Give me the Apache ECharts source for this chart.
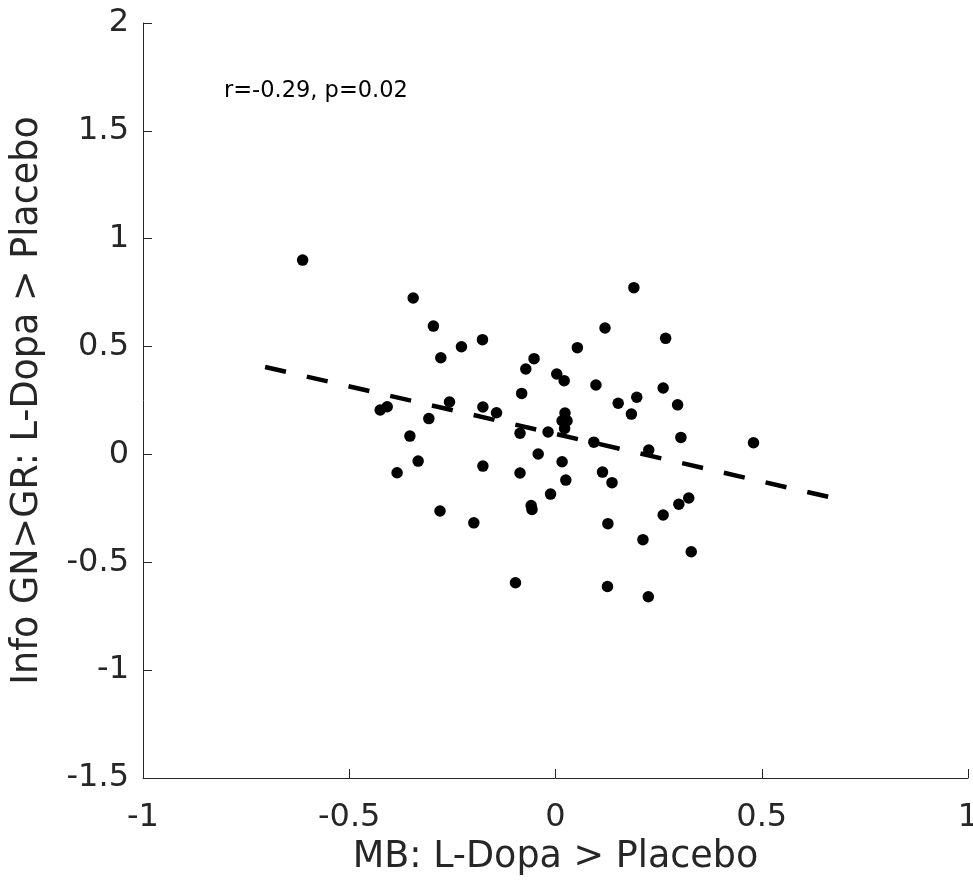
<!DOCTYPE html>
<html>
<head>
<meta charset="utf-8">
<title>MB vs Info GN>GR</title>
<script src="https://cdn.jsdelivr.net/npm/echarts@6/dist/echarts.min.js"></script>
<style>
  html, body { margin: 0; padding: 0; background: #fff; overflow: hidden; }
  #chart { width: 973px; height: 889px; }
</style>
</head>
<body>
<div id="chart"></div>
<script>
// Per-subject effects: model-based (MB) vs. information GN>GR, both L-Dopa > Placebo
const mbEffect = [
  -0.613, -0.345, -0.296, -0.228, -0.177, -0.278, -0.425, -0.408, -0.257, -0.307,
  -0.176, -0.143, -0.353, -0.333, -0.384, -0.176, -0.280, -0.198, -0.097, -0.052,
  -0.072, -0.082, 0.003, 0.021, 0.053, 0.023, 0.016, 0.028, 0.022, -0.086,
  -0.018, -0.042, 0.016, -0.086, 0.025, -0.012, -0.059, -0.057, 0.190, 0.120,
  0.267, 0.098, 0.261, 0.197, 0.152, 0.296, 0.184, 0.093, 0.304, 0.480,
  0.226, 0.114, 0.137, 0.323, 0.299, 0.261, 0.127, 0.212, 0.329, 0.126,
  0.225
];
const infoEffect = [
  0.901, 0.725, 0.595, 0.499, 0.532, 0.448, 0.206, 0.221, 0.243, 0.166,
  0.220, 0.193, 0.085, -0.031, -0.085, -0.054, -0.262, -0.317, -0.595, 0.444,
  0.396, 0.283, 0.373, 0.342, 0.495, 0.192, 0.156, 0.156, 0.120, 0.098,
  0.104, 0.002, -0.034, -0.086, -0.119, -0.184, -0.237, -0.255, 0.773, 0.586,
  0.538, 0.322, 0.308, 0.265, 0.237, 0.230, 0.187, 0.057, 0.079, 0.054,
  0.020, -0.082, -0.131, -0.202, -0.231, -0.281, -0.321, -0.395, -0.451, -0.612,
  -0.660
];

// Least-squares fit, drawn over the range of the data
const fitSlope = -0.441;
const fitIntercept = 0.095;
const fitRange = [-0.704, 0.661];

const xTicks = [-1, -0.5, 0, 0.5, 1];
const yTicks = [-1.5, -1, -0.5, 0, 0.5, 1, 1.5, 2];
const statsText = 'r=-0.29, p=0.02';

const points = mbEffect.map((x, i) => [x, infoEffect[i]]);
const fitLine = fitRange.map(x => [x, fitIntercept + fitSlope * x]);

const axisColor = '#262626';
const font = '"DejaVu Sans", "Liberation Sans", Arial, sans-serif';
const tickFontSize = 32;
const labelFontSize = 36.5;

const chart = echarts.init(document.getElementById('chart'), null, { renderer: 'canvas' });
chart.setOption({
  animation: false,
  backgroundColor: '#fff',
  grid: {
    left: 143, right: 5, top: 23, bottom: 111,
    containLabel: false, outerBoundsMode: 'none'
  },
  xAxis: {
    type: 'value',
    min: xTicks[0], max: xTicks[xTicks.length - 1], interval: 0.5,
    name: 'MB: L-Dopa > Placebo',
    nameLocation: 'middle', nameGap: 56,
    nameTextStyle: { color: axisColor, fontSize: labelFontSize, fontFamily: font },
    axisLine: { onZero: false, lineStyle: { color: axisColor, width: 1 } },
    axisTick: { inside: true, length: 9, lineStyle: { color: axisColor, width: 1 } },
    axisLabel: {
      color: axisColor, fontSize: tickFontSize, fontFamily: font, margin: 24,
      formatter: v => String(v)
    },
    splitLine: { show: false }
  },
  yAxis: {
    type: 'value',
    min: yTicks[0], max: yTicks[yTicks.length - 1], interval: 0.5,
    name: 'Info GN>GR: L-Dopa > Placebo',
    nameLocation: 'middle', nameGap: 96.5, nameRotate: 90,
    nameTextStyle: { color: axisColor, fontSize: labelFontSize, fontFamily: font },
    axisLine: { onZero: false, lineStyle: { color: axisColor, width: 1 } },
    axisTick: { inside: true, length: 9, lineStyle: { color: axisColor, width: 1 } },
    axisLabel: {
      color: axisColor, fontSize: tickFontSize, fontFamily: font, margin: 14,
      padding: [6, 0, 0, 0],
      formatter: v => String(v)
    },
    splitLine: { show: false }
  },
  graphic: [{
    type: 'text',
    x: 224, y: 91,
    style: {
      text: statsText, fill: '#000',
      font: '22.5px ' + font, verticalAlign: 'middle'
    }
  }],
  series: [
    {
      type: 'line',
      data: fitLine,
      symbol: 'none',
      lineStyle: { color: '#000', width: 4.5, type: [21.4, 21.4], cap: 'butt' },
      z: 2
    },
    {
      type: 'scatter',
      data: points,
      symbol: 'circle',
      symbolSize: 11.5,
      itemStyle: { color: '#000', opacity: 1 },
      z: 3
    }
  ]
});
</script>
</body>
</html>
